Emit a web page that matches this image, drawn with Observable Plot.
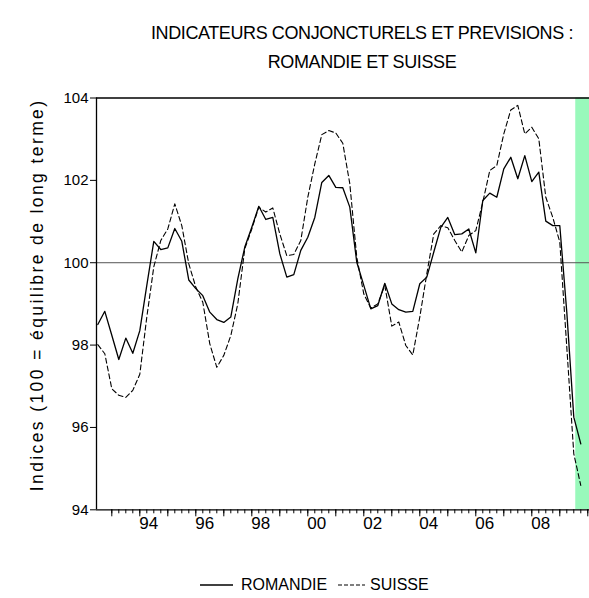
<!DOCTYPE html>
<html><head><meta charset="utf-8">
<script src="https://cdn.jsdelivr.net/npm/d3@7"></script>
<script src="https://cdn.jsdelivr.net/npm/@observablehq/plot@0.6"></script>
<style>
body{margin:0;background:#fff;}
#wrap{position:relative;width:589px;height:598px;font-family:"Liberation Sans",Arial,sans-serif;color:#000;overflow:hidden;}
#title{position:absolute;left:135px;width:454px;top:19px;text-align:center;font-size:18px;line-height:29px;letter-spacing:-0.4px;}
#legend{position:absolute;left:0;top:571px;width:589px;height:26px;}
</style></head><body><div id="wrap"><div id="title">INDICATEURS CONJONCTURELS ET PREVISIONS :<br>ROMANDIE ET SUISSE</div></div>
<script>
const periods = [
"1992Q3","1992Q4",
"1993Q1","1993Q2","1993Q3","1993Q4",
"1994Q1","1994Q2","1994Q3","1994Q4",
"1995Q1","1995Q2","1995Q3","1995Q4",
"1996Q1","1996Q2","1996Q3","1996Q4",
"1997Q1","1997Q2","1997Q3","1997Q4",
"1998Q1","1998Q2","1998Q3","1998Q4",
"1999Q1","1999Q2","1999Q3","1999Q4",
"2000Q1","2000Q2","2000Q3","2000Q4",
"2001Q1","2001Q2","2001Q3","2001Q4",
"2002Q1","2002Q2","2002Q3","2002Q4",
"2003Q1","2003Q2","2003Q3","2003Q4",
"2004Q1","2004Q2","2004Q3","2004Q4",
"2005Q1","2005Q2","2005Q3","2005Q4",
"2006Q1","2006Q2","2006Q3","2006Q4",
"2007Q1","2007Q2","2007Q3","2007Q4",
"2008Q1","2008Q2","2008Q3","2008Q4",
"2009Q1","2009Q2","2009Q3","2009Q4"];
const romandie = [
98.50,98.82,
98.24,97.65,98.17,97.80,
98.35,99.45,100.52,100.32,
100.36,100.83,100.52,99.58,
99.37,99.20,98.80,98.62,
98.55,98.68,99.61,100.38,
100.86,101.37,101.05,101.10,
100.22,99.65,99.71,100.30,
100.62,101.10,101.95,102.12,
101.83,101.82,101.35,100.01,
99.45,98.88,98.96,99.50,
99.00,98.86,98.80,98.82,
99.49,99.65,100.26,100.86,
101.10,100.68,100.70,100.82,
100.24,101.51,101.69,101.59,
102.28,102.56,102.04,102.60,
101.97,102.20,101.01,100.90,
100.90,98.80,96.25,95.60];
const suisse = [
98.01,97.79,
96.94,96.78,96.73,96.90,
97.29,98.68,99.90,100.54,
100.82,101.43,100.90,99.97,
99.41,99.04,98.03,97.46,
97.75,98.23,99.00,100.34,
100.82,101.35,101.23,101.33,
100.70,100.17,100.20,100.54,
101.59,102.40,103.11,103.21,
103.15,102.90,101.92,100.13,
99.24,98.90,99.00,99.45,
98.46,98.56,97.99,97.76,
98.68,99.73,100.70,100.90,
100.85,100.54,100.26,100.66,
100.78,101.47,102.24,102.36,
103.13,103.71,103.82,103.13,
103.29,103.01,101.59,101.10,
100.50,97.95,95.36,94.59];
const yTicks = [94, 96, 98, 100, 102, 104];
const labelYears = [1994, 1996, 1998, 2000, 2002, 2004, 2006, 2008];
const majorYears = [1993,1994,1995,1996,1997,1998,1999,2000,2001,2002,2003,2004,2005,2006,2007,2008,2009,2010];
const forecastStart = 2009.57;
const xDomain = [1992.4536, 2010.061];

const toYear = p => +p.slice(0,4) + (+p.slice(5) - 1) / 4;
const rows = periods.map((p, i) => ({t: toYear(p), romandie: romandie[i], suisse: suisse[i]}));
const minorTicks = [];
majorYears.forEach(y => [0, 0.25, 0.5, 0.75].forEach(f => { if (y + f >= xDomain[0] && y + f <= xDomain[1]) minorTicks.push(y + f); }));

const chart = Plot.plot({
  width: 589, height: 598,
  marginLeft: 96, marginRight: 0, marginTop: 97.5, marginBottom: 88.7,
  style: {fontFamily: "'Liberation Sans', Arial, sans-serif", fontSize: "15px", color: "#000", background: "#fff", overflow: "visible"},
  x: {domain: xDomain},
  y: {domain: [94, 104]},
  marks: [
    Plot.rect([{x1: forecastStart, x2: xDomain[1]}], {x1: "x1", x2: "x2", y1: 94, y2: 104, fill: "#99f9bb"}),
    Plot.ruleY([100], {stroke: "#555", strokeWidth: 1}),
    Plot.lineY(rows, {x: "t", y: "suisse", stroke: "#000", strokeWidth: 1.1, strokeDasharray: "5,3"}),
    Plot.lineY(rows, {x: "t", y: "romandie", stroke: "#000", strokeWidth: 1.3}),
    Plot.ruleY([104], {stroke: "#000", strokeWidth: 1.6}),
    Plot.ruleY([94], {stroke: "#000", strokeWidth: 1.3}),
    Plot.ruleX([xDomain[0]], {stroke: "#000", strokeWidth: 1.3}),
    Plot.axisY({ticks: yTicks, tickSize: 6, tickPadding: 2, tickFormat: d => String(d), fontSize: 15}),
    Plot.axisX({ticks: minorTicks, tickSize: 4, tickFormat: () => "", label: null}),
    Plot.axisX({ticks: majorYears, tickSize: 7, tickFormat: () => "", label: null}),
    Plot.text(labelYears, {x: d => d, frameAnchor: "bottom", dx: 9, dy: 19, text: d => String(d % 100).padStart(2, "0"), fontSize: 17}),
    Plot.text(["Indices (100 = équilibre de long terme)"], {frameAnchor: "left", textAnchor: "middle", dx: -59, dy: -9, rotate: -90, fontSize: 17.5, className: "ylab"})
  ]
});
document.getElementById("wrap").appendChild(chart);
d3.select(chart).selectAll(".ylab text").attr("letter-spacing", "2.4px");

// legend
const leg = d3.select("#wrap").append("svg").attr("id", "legend").attr("width", 589).attr("height", 26);
leg.append("line").attr("x1", 200).attr("x2", 233).attr("y1", 14).attr("y2", 14).attr("stroke", "#000").attr("stroke-width", 1.3);
leg.append("text").attr("x", 241).attr("y", 19).text("ROMANDIE").attr("font-size", 16).attr("font-family", "'Liberation Sans', Arial, sans-serif");
leg.append("line").attr("x1", 338).attr("x2", 365).attr("y1", 14).attr("y2", 14).attr("stroke", "#000").attr("stroke-width", 1.2).attr("stroke-dasharray", "4,2");
leg.append("text").attr("x", 370).attr("y", 19).text("SUISSE").attr("font-size", 16).attr("font-family", "'Liberation Sans', Arial, sans-serif");
</script></body></html>
